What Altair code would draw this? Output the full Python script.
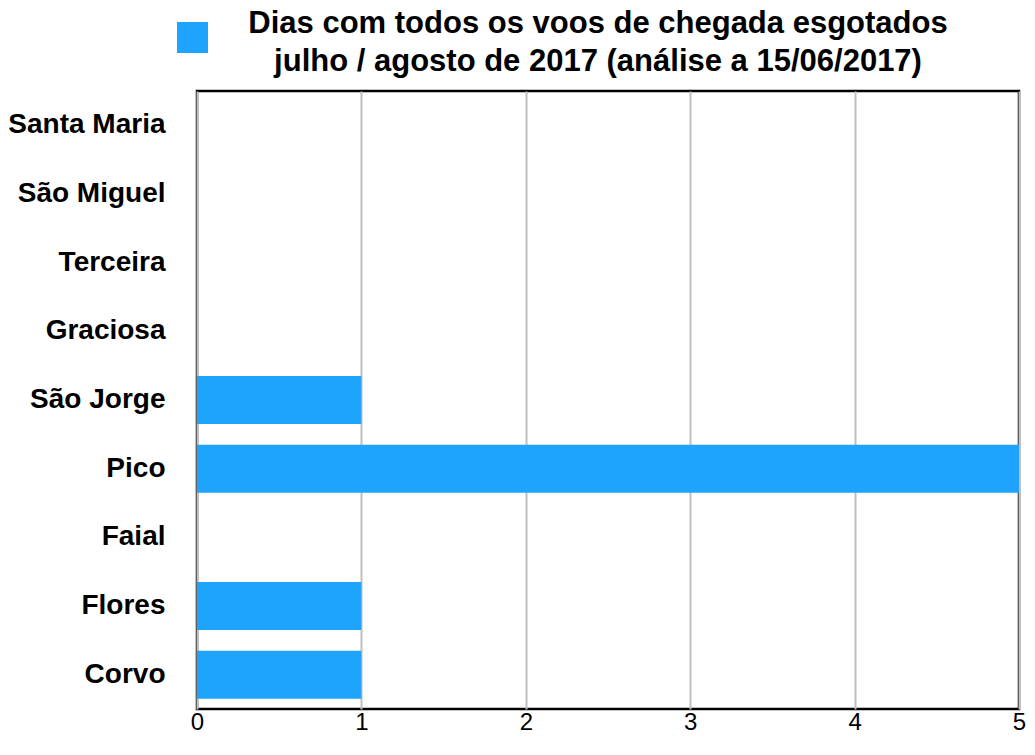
import altair as alt
import pandas as pd

ilhas = ["Santa Maria", "São Miguel", "Terceira", "Graciosa", "São Jorge",
         "Pico", "Faial", "Flores", "Corvo"]
dias = [0, 0, 0, 0, 1, 5, 0, 1, 1]
serie = "Dias com todos os voos de chegada esgotados julho / agosto de 2017 (análise a 15/06/2017)"
titulo = ["Dias com todos os voos de chegada esgotados",
          "julho / agosto de 2017 (análise a 15/06/2017)"]

df = pd.DataFrame({"ilha": ilhas, "dias": dias, "serie": [serie] * len(ilhas)})

FONT = "Liberation Sans"

chart = alt.Chart(df).mark_bar().encode(
    y=alt.Y("ilha:N", sort=ilhas, title=None,
            scale=alt.Scale(paddingInner=0.3, paddingOuter=0.15),
            axis=alt.Axis(labelFont=FONT, labelFontSize=28, labelFontWeight="bold",
                          labelColor="#000", labelPadding=32, ticks=False, domain=False,
                          grid=False, labelLimit=300)),
    x=alt.X("dias:Q", title=None, scale=alt.Scale(domain=[0, 5], nice=False),
            axis=alt.Axis(values=[0, 1, 2, 3, 4, 5], labelFont=FONT, labelFontSize=24,
                          labelColor="#000", labelPadding=1, ticks=False, domain=False,
                          grid=True, gridColor="#c0c0c0", gridWidth=2,
                          labelFlush=False, format="d")),
    color=alt.Color("serie:N", scale=alt.Scale(range=["#1ea4fd"]),
                    legend=alt.Legend(orient="none", legendX=-20, legendY=-69,
                                      symbolType="square", symbolSize=961,
                                      symbolStrokeWidth=0, symbolOpacity=1,
                                      labelExpr="''", title=None, padding=0,
                                      symbolOffset=0)),
).properties(
    width=822,
    height=618,
    title=alt.TitleParams(titulo, font=FONT, fontSize=31, fontWeight="bold",
                          color="#000", anchor="middle", dx=-10, offset=14,
                          lineHeight=38, baseline="top", dy=70),
    autosize=alt.AutoSizeParams(type="none"),
    padding={"left": 189, "top": 83, "right": 8, "bottom": 40},
).configure_view(
    stroke="#000", strokeWidth=2.5
)

chart.save("out.html", embed_options={"renderer": "svg", "actions": False})
